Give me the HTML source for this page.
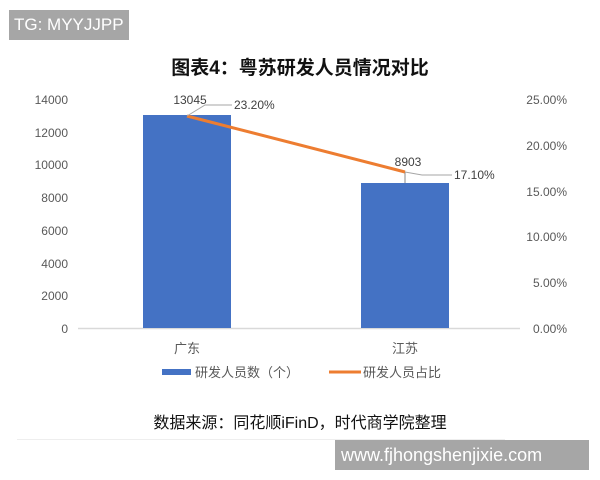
<!DOCTYPE html><html><head><meta charset="utf-8"><style>
body{margin:0;width:600px;height:480px;background:#fff;overflow:hidden;position:relative;font-family:"Liberation Sans","Noto Sans CJK SC",sans-serif}
.box{position:absolute;background:#a6a6a6;color:#fff;font-size:18px;line-height:30px;white-space:nowrap;overflow:hidden}
</style></head><body>
<div class="box" style="left:9px;top:10px;width:120px;height:30px;padding-left:5px;box-sizing:border-box;font-size:17px">TG: MYYJJPP</div>
<svg width="600" height="480" style="position:absolute;left:0;top:0" font-family="Liberation Sans, Noto Sans CJK SC, sans-serif">
<text x="300" y="74" text-anchor="middle" font-size="19" font-weight="bold" fill="#111">图表4：粤苏研发人员情况对比</text>
<g font-size="12" fill="#595959" text-anchor="end">
<text x="68" y="104">14000</text><text x="68" y="137">12000</text><text x="68" y="169">10000</text><text x="68" y="202">8000</text><text x="68" y="235">6000</text><text x="68" y="268">4000</text><text x="68" y="300">2000</text><text x="68" y="333">0</text>
</g>
<g font-size="12" fill="#595959" text-anchor="end">
<text x="567" y="104">25.00%</text><text x="567" y="150">20.00%</text><text x="567" y="196">15.00%</text><text x="567" y="241">10.00%</text><text x="567" y="287">5.00%</text><text x="567" y="333">0.00%</text>
</g>
<line x1="78" y1="328.5" x2="520" y2="328.5" stroke="#d9d9d9" stroke-width="1.5"/>
<rect x="143" y="115" width="88" height="213" fill="#4472c4"/>
<rect x="361" y="183" width="88" height="145" fill="#4472c4"/>
<line x1="405" y1="172" x2="405" y2="183" stroke="#888"/>
<polyline points="187,116 405,172" fill="none" stroke="#ed7d31" stroke-width="3"/>
<polyline points="187,116 205,105 232,105" fill="none" stroke="#a6a6a6"/>
<polyline points="405,172 422,175 452,175" fill="none" stroke="#a6a6a6"/>
<g font-size="12" fill="#404040">
<text x="190" y="104" text-anchor="middle">13045</text>
<text x="234" y="109">23.20%</text>
<text x="408" y="166" text-anchor="middle">8903</text>
<text x="454" y="179">17.10%</text>
</g>
<g font-size="13" fill="#595959" text-anchor="middle">
<text x="187" y="353">广东</text><text x="405" y="353">江苏</text>
</g>
<rect x="162" y="369" width="29" height="6" fill="#4472c4"/>
<text x="195" y="377" font-size="13" fill="#595959">研发人员数（个）</text>
<line x1="329" y1="372" x2="361" y2="372" stroke="#ed7d31" stroke-width="3"/>
<text x="363" y="377" font-size="13" fill="#595959">研发人员占比</text>
<text x="300" y="428" text-anchor="middle" font-size="16" fill="#111">数据来源：同花顺iFinD，时代商学院整理</text>
<line x1="17" y1="439.5" x2="505" y2="439.5" stroke="#eee"/>
</svg>
<div class="box" style="left:335px;top:440px;width:254px;height:30px;padding-left:6px;box-sizing:border-box">www.fjhongshenjixie.com</div>
</body></html>
